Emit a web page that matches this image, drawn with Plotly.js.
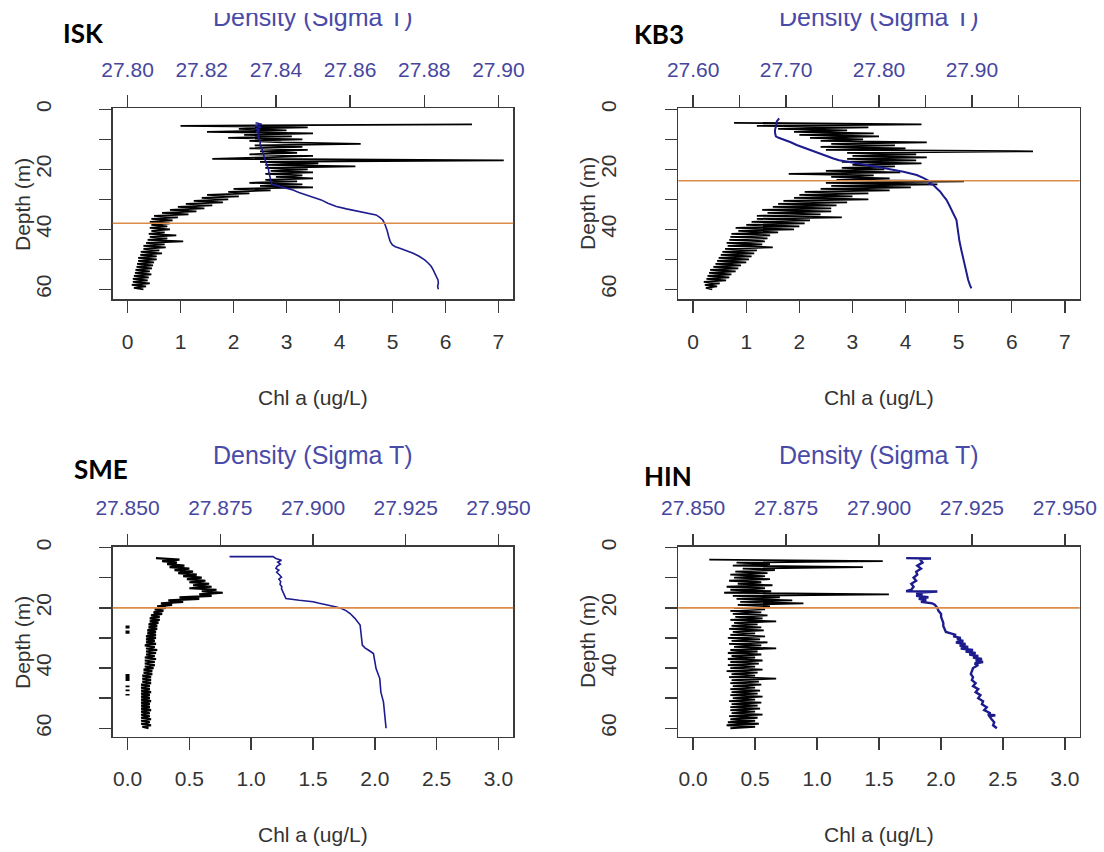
<!DOCTYPE html>
<html>
<head>
<meta charset="utf-8">
<script src="https://cdn.plot.ly/plotly-3.0.1.min.js"></script>
<style>
  html, body { margin: 0; padding: 0; background: #ffffff; }
  #chart { position: absolute; left: 0; top: 13px; width: 1104px; height: 839px; }
</style>
</head>
<body>
<div id="chart"></div>
<script>
// ---------------- DATA ----------------
const stationNames = ['ISK', 'KB3', 'SME', 'HIN'];
const mldDepth = [38, 23.8, 20, 20];

// shared depth grid for the chlorophyll profiles (m)
const depthGrid = [
  3.5,4,4.5,5,5.5,6,6.5,7,7.5,8,
  8.5,9,9.5,10,10.5,11,11.5,12,12.5,13,
  13.5,14,14.5,15,15.5,16,16.5,17,17.5,18,
  18.5,19,19.5,20,20.5,21,21.5,22,22.5,23,
  23.5,24,24.5,25,25.5,26,26.5,27,27.5,28,
  28.5,29,29.5,30,30.5,31,31.5,32,32.5,33,
  33.5,34,34.5,35,35.5,36,36.5,37,37.5,38,
  38.5,39,39.5,40,40.5,41,41.5,42,42.5,43,
  43.5,44,44.5,45,45.5,46,46.5,47,47.5,48,
  48.5,49,49.5,50,50.5,51,51.5,52,52.5,53,
  53.5,54,54.5,55,55.5,56,56.5,57,57.5,58,
  58.5,59,59.5,60];

const iskChl = [
  null,null,null,6.5,1.0,3.4,2.1,3.0,1.5,3.5,
  2.2,3.1,1.9,3.3,2.3,2.9,4.4,2.4,3.3,2.3,
  3.4,2.5,3.2,2.3,3.5,2.6,1.6,7.1,2.5,3.6,
  2.6,4.3,2.6,3.4,2.7,3.5,2.6,3.3,2.8,3.5,
  2.6,3.2,2.3,3.3,2.5,3.5,2.0,2.7,1.9,2.3,
  1.5,2.1,1.4,1.9,1.25,1.8,1.1,1.6,0.95,1.45,
  0.8,1.3,0.65,1.15,0.5,0.95,0.45,0.85,0.42,0.8,
  0.45,0.75,0.42,0.8,0.45,0.7,0.4,0.92,0.42,0.75,
  0.38,1.05,0.35,0.7,0.3,0.72,0.3,0.6,0.25,0.65,
  0.24,0.55,0.2,0.55,0.2,0.5,0.18,0.48,0.17,0.46,
  0.15,0.42,0.14,0.45,0.12,0.4,0.1,0.38,0.1,0.42,
  0.08,0.35,0.12,0.3];

const kb3Chl = [
  null,null,0.77,4.3,1.2,3.3,1.6,2.9,1.9,3.4,
  2.0,3.5,2.2,3.2,2.4,4.4,2.6,3.8,2.4,4.0,
  2.5,6.4,2.9,4.2,3.0,4.4,2.9,4.2,2.8,4.3,
  3.0,3.8,2.8,3.6,2.5,3.9,1.8,3.4,2.6,3.7,
  2.7,5.1,2.5,4.6,2.6,4.1,2.4,3.7,2.1,3.3,
  2.0,3.0,1.9,3.3,1.7,2.9,1.6,2.7,1.5,2.6,
  1.3,2.6,1.4,2.4,1.2,2.8,1.2,2.2,1.1,2.1,
  1.0,2.0,0.8,1.9,0.85,1.6,0.72,1.45,0.7,1.4,
  0.68,1.35,0.63,1.3,0.65,1.5,0.6,1.2,0.55,1.15,
  0.52,1.1,0.48,1.05,0.45,1.0,0.42,0.9,0.38,0.85,
  0.32,0.8,0.3,0.72,0.27,0.68,0.25,0.62,0.2,0.5,
  0.22,0.45,0.24,0.36];

const smeChl = [
  0.23,0.42,0.28,0.40,0.32,0.46,0.34,0.50,0.38,0.53,
  0.41,0.56,0.45,0.60,0.48,0.63,0.50,0.66,0.53,0.68,
  0.50,0.72,0.60,0.77,0.58,0.68,0.42,0.58,0.33,0.45,
  0.27,0.36,0.24,0.31,0.22,0.29,0.21,0.28,0.19,0.26,
  0.18,0.26,0.18,0.25,0.17,0.24,0.17,0.24,0.16,0.23,
  0.16,0.23,0.15,0.23,0.15,0.22,0.15,0.23,0.14,0.22,
  0.15,0.24,0.15,0.23,0.15,0.22,0.14,0.23,0.14,0.22,
  0.14,0.22,0.14,0.21,0.13,0.20,0.13,0.20,0.12,0.19,
  0.12,0.19,0.12,0.19,0.11,0.18,0.11,0.18,0.11,0.19,
  0.11,0.18,0.11,0.18,0.11,0.19,0.11,0.18,0.11,0.18,
  0.11,0.19,0.11,0.18,0.11,0.18,0.11,0.19,0.11,0.18,
  0.11,0.19,0.12,0.17];

const hinChl = [
  null,0.13,1.53,0.35,0.62,0.32,1.37,0.4,0.66,0.34,
  0.6,0.3,0.58,0.33,0.62,0.29,0.55,0.36,0.64,0.27,
  0.58,0.3,0.63,0.25,1.58,0.32,0.7,0.35,0.8,0.38,
  0.89,0.36,0.62,0.33,0.58,0.3,0.55,0.32,0.6,0.34,
  0.56,0.3,0.67,0.33,0.52,0.31,0.55,0.29,0.57,0.32,
  0.5,0.3,0.58,0.28,0.54,0.31,0.6,0.29,0.55,0.33,
  0.67,0.3,0.52,0.28,0.55,0.31,0.5,0.28,0.56,0.3,
  0.53,0.28,0.5,0.3,0.56,0.27,0.52,0.31,0.5,0.29,
  0.67,0.31,0.53,0.3,0.55,0.32,0.5,0.3,0.54,0.31,
  0.52,0.3,0.56,0.32,0.5,0.29,0.55,0.31,0.52,0.3,
  0.54,0.3,0.5,0.31,0.56,0.29,0.52,0.3,0.5,0.28,
  0.53,0.27,0.5,0.3];

// isolated zero readings at SME (segments separated by gaps)
const smeZeroDepth = [25.9,26.9,null,27.5,28.6,null,42.0,44.3,null,45.8,46.4,null,47.1,47.7,null,48.6,49.1];
const smeZeroChl   = [0,0,null,0,0,null,0,0,null,0,0,null,0,0,null,0,0];

// density (sigma-t) profiles
const iskDensDepth = [4.5,5,5.5,6,6.5,7,7.5,8,9,10,11,12,13,14,15,16,17,18,19,20,21,22,23,24,25,25.6,26.2,26.9,27.7,28.6,29.4,30.2,31.3,32.4,33.2,34.1,34.7,35.2,36,36.9,38,39.1,40.5,42.4,44,45.2,45.8,46.3,47.1,48,49,50.2,51.3,52.4,53.5,54.7,55.8,56.9,58,59,60];
const iskDens = [27.8345,27.8362,27.8343,27.8360,27.8345,27.8357,27.8347,27.8354,27.8352,27.8356,27.8358,27.8357,27.8362,27.8364,27.8366,27.8367,27.8371,27.8374,27.8378,27.8380,27.8381,27.8383,27.8384,27.8386,27.8389,27.8408,27.8428,27.8446,27.8462,27.8482,27.8500,27.8522,27.8540,27.8563,27.8590,27.8626,27.8650,27.8670,27.8680,27.8688,27.8693,27.8697,27.8700,27.8704,27.8708,27.8714,27.8722,27.8734,27.8752,27.8770,27.8786,27.8801,27.8811,27.8819,27.8824,27.8829,27.8833,27.8837,27.8838,27.8836,27.8838];

const kb3DensDepth = [3,3.5,4,5,6,7,8,9,9.5,10.2,11,11.9,12.8,13.6,14.7,15.5,16.4,17,17.5,18,18.6,19.2,19.7,20.3,20.8,21.4,21.9,22.8,23.6,24.2,24.8,25.2,26.3,27.4,28.8,30.2,31.9,33.6,35.3,36.9,39,41.3,44,46.9,49.5,52.4,54.5,56.9,58.5,59.7];
const kb3Dens = [27.6926,27.6915,27.6900,27.6897,27.6885,27.6880,27.6882,27.6890,27.6920,27.6990,27.7050,27.7114,27.7190,27.7257,27.7366,27.7430,27.7509,27.7570,27.7651,27.7750,27.7869,27.7990,27.8080,27.8180,27.8263,27.8340,27.8406,27.8470,27.8514,27.8560,27.8540,27.8583,27.8620,27.8657,27.8690,27.8726,27.8755,27.8780,27.8810,27.8834,27.8843,27.8850,27.8866,27.8886,27.8904,27.8926,27.8940,27.8960,27.8978,27.8994];

const smeDensDepth = [3,3,3.6,4.2,4.8,5.5,6.2,6.9,7.5,8.2,9.1,9.8,10.5,11.3,12.2,13,13.6,14.5,15.2,15.8,16.9,17.5,18,18.5,19.1,19.7,20.2,21,21.9,23.5,25.7,27.4,29.1,32.4,33.3,34.1,35.2,38,40.2,43.5,48,51.3,55.8,59.5,60];
const smeDens = [27.8775,27.8892,27.8900,27.8915,27.8905,27.8912,27.8903,27.8900,27.8908,27.8902,27.8910,27.8915,27.8908,27.8913,27.8911,27.8916,27.8915,27.8918,27.8920,27.8923,27.8927,27.8963,27.9000,27.9017,27.9043,27.9063,27.9077,27.9090,27.9100,27.9113,27.9127,27.9128,27.9130,27.9133,27.9140,27.9150,27.9163,27.9167,27.9170,27.9180,27.9183,27.9190,27.9193,27.9197,27.9197];

const hinDensDepth = [3.5,3.6,3.8,5,6,7,8,9,10,11,12,13,14,14.5,14.6,15,15.5,16,16.5,17,17.5,18,18.5,19,20,21,22,23,24,25,26,27,28,28.5,29,29.5,30,30.5,31,31.5,32,32.5,33,33.5,34,34.5,35,35.5,36,36.5,37,37.5,38,38.5,39,40,41,42,43,44,45,46,47,48,49,50,51,52,53,54,55,55.5,55.7,56,57,58,59,60];
const hinDens = [27.9073,27.9140,27.9110,27.9117,27.9103,27.9113,27.9100,27.9103,27.9093,27.9100,27.9087,27.9093,27.9087,27.9073,27.9157,27.9100,27.9117,27.9100,27.9133,27.9107,27.9127,27.9113,27.9143,27.9150,27.9157,27.9160,27.9167,27.9167,27.9170,27.9173,27.9173,27.9177,27.9180,27.9193,27.9207,27.9200,27.9220,27.9210,27.9227,27.9207,27.9233,27.9217,27.9240,27.9220,27.9253,27.9233,27.9260,27.9243,27.9267,27.9253,27.9277,27.9260,27.9280,27.9257,27.9267,27.9253,27.9250,27.9247,27.9253,27.9250,27.9260,27.9253,27.9267,27.9260,27.9273,27.9267,27.9280,27.9277,27.9290,27.9283,27.9300,27.9293,27.9313,27.9297,27.9303,27.9310,27.9307,27.9317];

// ticks
const depthTicks = [0,10,20,30,40,50,60];
const depthTickText = ['0','','20','','40','','60'];
const chlTicksTop = [0,1,2,3,4,5,6,7];
const chlTickTextTop = ['0','1','2','3','4','5','6','7'];
const chlTicksBottom = [0,0.5,1,1.5,2,2.5,3];
const chlTickTextBottom = ['0.0','0.5','1.0','1.5','2.0','2.5','3.0'];
const iskDensTicks = [27.80,27.82,27.84,27.86,27.88,27.90];
const iskDensTickText = ['27.80','27.82','27.84','27.86','27.88','27.90'];
const kb3DensTicks = [27.60,27.65,27.70,27.75,27.80,27.85,27.90,27.95];
const kb3DensTickText = ['27.60','','27.70','','27.80','','27.90',''];
const lowDensTicks = [27.850,27.875,27.900,27.925,27.950];
const lowDensTickText = ['27.850','27.875','27.900','27.925','27.950'];

// ---------------- STYLE / LAYOUT ----------------
const W = 1104, H = 839, TOPOFF = 13;
const px = x => x / W;
const py = y => (H + TOPOFF - y) / H;

const FONT = 'Liberation Sans, Arial, sans-serif';
const DARK = '#333333';
const AXC = '#3a3a3a';
const BLUE_TXT = '#46469e';
const BLUE_LINE = '#1c1c8e';
const ORANGE = '#dc8c48';

const colDom = [[px(112.7), px(513.3)], [px(678.3), px(1079.7)]];
const rowDom = [[py(299.3), py(108.3)], [py(736.7), py(546.7)]];
const yRanges = [[63.33, -0.33], [62.8, -0.3]];

const panelCfg = [
  {chl: iskChl, dd: iskDensDepth, dens: iskDens, col: 0, row: 0, chlRange: [-0.28, 7.28], densRange: [27.796, 27.904],
   chlTicks: chlTicksTop, chlText: chlTickTextTop, densTicks: iskDensTicks, densText: iskDensTickText, chlW: 1.8, densW: 1.6},
  {chl: kb3Chl, dd: kb3DensDepth, dens: kb3Dens, col: 1, row: 0, chlRange: [-0.28, 7.28], densRange: [27.584, 28.016],
   chlTicks: chlTicksTop, chlText: chlTickTextTop, densTicks: kb3DensTicks, densText: kb3DensTickText, chlW: 1.8, densW: 2},
  {chl: smeChl, dd: smeDensDepth, dens: smeDens, col: 0, row: 1, chlRange: [-0.12, 3.12], densRange: [27.846, 27.954],
   chlTicks: chlTicksBottom, chlText: chlTickTextBottom, densTicks: lowDensTicks, densText: lowDensTickText, chlW: 2.2, densW: 1.6},
  {chl: hinChl, dd: hinDensDepth, dens: hinDens, col: 1, row: 1, chlRange: [-0.12, 3.12], densRange: [27.846, 27.954],
   chlTicks: chlTicksBottom, chlText: chlTickTextBottom, densTicks: lowDensTicks, densText: lowDensTickText, chlW: 1.8, densW: 2.4}
];

const traces = [];
const layout = {
  width: W, height: H,
  margin: {l: 0, r: 0, t: 0, b: 0},
  paper_bgcolor: '#ffffff', plot_bgcolor: '#ffffff',
  showlegend: false, hovermode: false,
  font: {family: FONT, color: DARK, size: 21},
  shapes: [], annotations: []
};

panelCfg.forEach((p, i) => {
  const n = i + 1;
  const xa = 2 * i + 1, xb = 2 * i + 2;
  const xName = xa === 1 ? 'x' : 'x' + xa;
  const xbName = 'x' + xb;
  const yName = n === 1 ? 'y' : 'y' + n;
  const xKey = xa === 1 ? 'xaxis' : 'xaxis' + xa;
  const xbKey = 'xaxis' + xb;
  const yKey = n === 1 ? 'yaxis' : 'yaxis' + n;

  layout[xKey] = {
    domain: colDom[p.col], anchor: yName, range: p.chlRange,
    tickmode: 'array', tickvals: p.chlTicks, ticktext: p.chlText,
    ticks: 'outside', ticklen: 12, tickwidth: 1.5, tickcolor: AXC,
    ticklabelstandoff: 11,
    showline: true, mirror: true, linecolor: AXC, linewidth: 1.5,
    showgrid: false, zeroline: false,
    tickfont: {family: FONT, size: 21, color: DARK}
  };
  layout[xbKey] = {
    overlaying: xName, side: 'top', anchor: yName, range: p.densRange,
    tickmode: 'array', tickvals: p.densTicks, ticktext: p.densText,
    ticks: 'outside', ticklen: 12, tickwidth: 1.5, tickcolor: AXC,
    ticklabelstandoff: 10,
    showline: false, showgrid: false, zeroline: false,
    tickfont: {family: FONT, size: 21, color: BLUE_TXT}
  };
  layout[yKey] = {
    domain: rowDom[p.row], anchor: xName, range: yRanges[p.row],
    tickmode: 'array', tickvals: depthTicks, ticktext: depthTickText,
    ticks: 'outside', ticklen: 12, tickwidth: 1.5, tickcolor: AXC,
    tickangle: -90, ticklabelstandoff: 40,
    showline: true, mirror: true, linecolor: AXC, linewidth: 1.5,
    showgrid: false, zeroline: false,
    tickfont: {family: FONT, size: 21, color: DARK}
  };

  traces.push({
    type: 'scatter', mode: 'lines', x: p.chl, y: depthGrid,
    xaxis: xName, yaxis: yName,
    line: {color: '#000000', width: p.chlW}, connectgaps: false
  });
  if (i === 2) {
    traces.push({
      type: 'scatter', mode: 'lines', x: smeZeroChl, y: smeZeroDepth,
      xaxis: xName, yaxis: yName,
      line: {color: '#000000', width: 4}, connectgaps: false
    });
  }
  traces.push({
    type: 'scatter', mode: 'lines', x: p.dens, y: p.dd,
    xaxis: xbName, yaxis: yName,
    line: {color: BLUE_LINE, width: p.densW}
  });

  layout.shapes.push({
    type: 'line', xref: xName + ' domain', yref: yName,
    x0: 0, x1: 1, y0: mldDepth[i], y1: mldDepth[i],
    line: {color: ORANGE, width: 1.6}, layer: 'above'
  });
});

// text positions (page pixels)
const cx = [313, 879];
const titleTexts = {chl: 'Chl a (ug/L)', depth: 'Depth (m)', dens: 'Density (Sigma T)'};
const ann = layout.annotations;
const mk = (text, x, y, opts) => Object.assign({
  text: text, x: px(x), y: py(y), xref: 'paper', yref: 'paper',
  xanchor: 'center', yanchor: 'middle', showarrow: false
}, opts);

// Station labels
[[83, 33], [659, 34], [101, 469], [668, 476]].forEach((pos, i) => {
  ann.push(mk('<b>' + stationNames[i] + '</b>', pos[0], pos[1],
    {font: {family: 'Lato, Liberation Sans, sans-serif', size: 26, color: '#000000'}}));
});
// Density titles
[[cx[0], 17], [cx[1], 17], [cx[0], 454.5], [cx[1], 454.5]].forEach(pos => {
  ann.push(mk(titleTexts.dens, pos[0], pos[1], {font: {family: FONT, size: 25, color: '#4a4aa8'}}));
});
// Chl titles
[[cx[0], 397], [cx[1], 397], [cx[0], 834.4], [cx[1], 834.4]].forEach(pos => {
  ann.push(mk(titleTexts.chl, pos[0], pos[1], {font: {family: FONT, size: 21, color: DARK}}));
});
// Depth titles
[[22, 204], [587, 204], [22, 642], [587, 642]].forEach(pos => {
  ann.push(mk(titleTexts.depth, pos[0], pos[1], {textangle: -90, font: {family: FONT, size: 21, color: DARK}}));
});

Plotly.newPlot('chart', traces, layout, {staticPlot: true, displayModeBar: false});
</script>
</body>
</html>
